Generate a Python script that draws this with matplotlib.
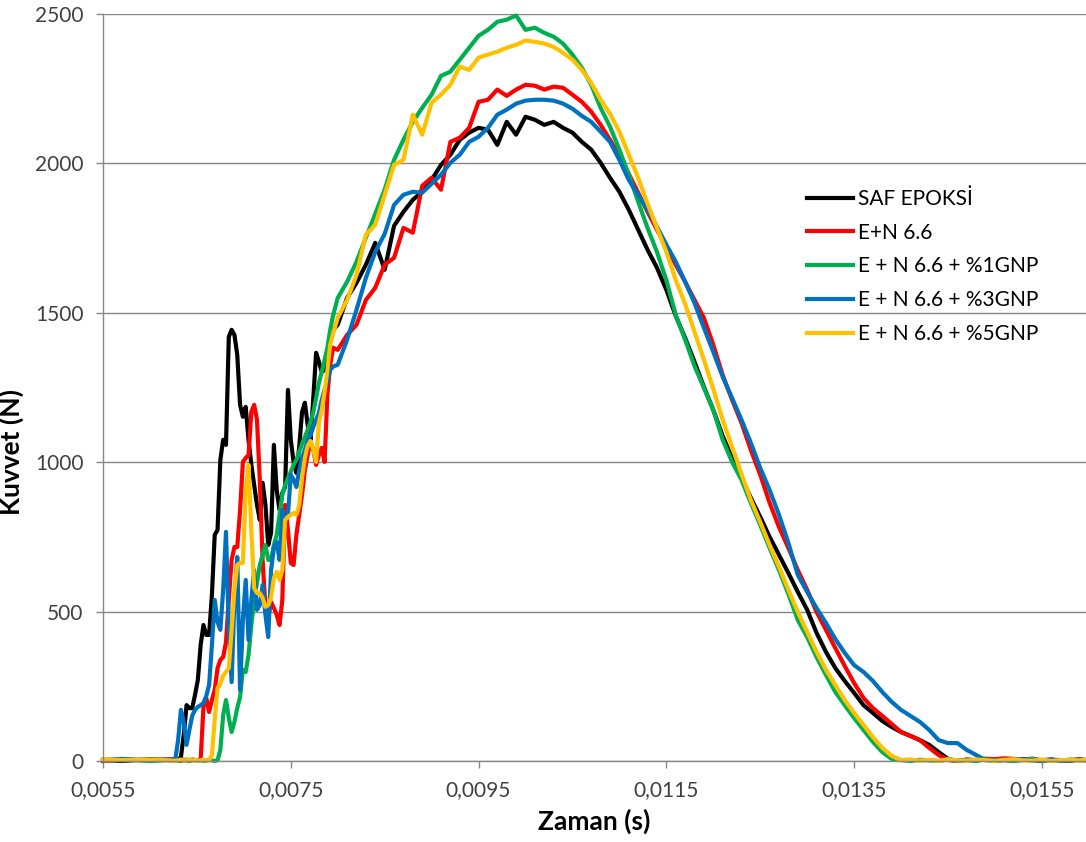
import matplotlib
matplotlib.use("Agg")
import matplotlib.pyplot as plt
from matplotlib.ticker import FixedLocator, FuncFormatter

plt.rcParams["font.family"] = ["Lato", "DejaVu Sans"]

labels = ["SAF EPOKSİ", "E+N 6.6", "E + N 6.6 + %1GNP", "E + N 6.6 + %3GNP", "E + N 6.6 + %5GNP"]
colors = ["#000000", "#FF0000", "#00B050", "#0070C0", "#FFC000"]

# time (s): impact onset region, read finely
t_early = [0.00550, 0.00570, 0.00600, 0.00627,
           0.00630, 0.00633, 0.00636, 0.00639, 0.00642, 0.00645, 0.00648, 0.00651, 0.00654, 0.00657,
           0.00660, 0.00663, 0.00666, 0.00669, 0.00672, 0.00675, 0.00678, 0.00681, 0.00684, 0.00687,
           0.00690, 0.00693, 0.00696, 0.00699, 0.00702, 0.00705, 0.00708, 0.00711, 0.00714, 0.00717,
           0.00720, 0.00723, 0.00726, 0.00729, 0.00732, 0.00735, 0.00738, 0.00741, 0.00744, 0.00747,
           0.00750, 0.00753, 0.00756, 0.00759, 0.00762, 0.00765, 0.00768, 0.00771, 0.00774, 0.00777,
           0.00780, 0.00783, 0.00786, 0.00789, 0.00792, 0.00795]

# time (s): main pulse
t_main = [0.0080, 0.0081, 0.0082, 0.0083, 0.0084, 0.0085, 0.0086, 0.0087, 0.0088, 0.0089,
          0.0090, 0.0091, 0.0092, 0.0093, 0.0094, 0.0095, 0.0096, 0.0097, 0.0098, 0.0099,
          0.0100, 0.0101, 0.0102, 0.0103, 0.0104, 0.0105, 0.0106, 0.0107, 0.0108, 0.0109,
          0.0110, 0.0111, 0.0112, 0.0113, 0.0114, 0.0115, 0.0116, 0.0117, 0.0118, 0.0119,
          0.0120, 0.0121, 0.0122, 0.0123, 0.0124, 0.0125, 0.0126, 0.0127, 0.0128, 0.0129,
          0.0130, 0.0131, 0.0132, 0.0133, 0.0134, 0.0135, 0.0136, 0.0137, 0.0138, 0.0139,
          0.0140, 0.0141, 0.0142, 0.0143, 0.0144, 0.0145, 0.0146, 0.0147, 0.0148, 0.0149,
          0.0150, 0.0151, 0.0152, 0.0153, 0.0154, 0.0155, 0.0156, 0.0157, 0.0158, 0.0159,
          0.0160]

# force (N)
saf_early = [4, 0, 6, 2,
             3, 13, 87, 187, 177, 177, 221, 271, 388, 455,
             422, 422, 556, 757, 773, 1008, 1075, 1058, 1420, 1443,
             1426, 1359, 1192, 1152, 1185, 1075, 991, 924, 857, 807,
             931, 857, 723, 763, 1058, 907, 840, 897, 917, 1242,
             1075, 1001, 964, 1051, 1168, 1199, 1125, 1075, 1215, 1366,
             1336, 1302, 1309, 1369, 1409, 1443]
saf_main = [1460, 1550, 1600, 1661, 1734, 1644, 1791, 1838, 1878, 1905,
            1945, 1995, 2029, 2079, 2103, 2119, 2113, 2062, 2139, 2096,
            2156, 2146, 2129, 2139, 2119, 2103, 2072, 2046, 2002, 1952,
            1905, 1845, 1778, 1711, 1651, 1577, 1490, 1416, 1336, 1252,
            1175, 1088, 1014, 947, 881, 817, 750, 690, 629, 566,
            506, 429, 365, 311, 268, 228, 187, 161, 134, 114,
            97, 84, 70, 54, 30, 7, 0, 4, 2, 5,
            0, 3, 1, 6, 2, 0, 4, 3, 1, 5,
            2]

en_early = [0, 5, 2, 7,
            3, 0, 4, 2, 0, 5, 3, 1, 4, 181,
            211, 164, 204, 238, 311, 338, 348, 398, 539, 673,
            716, 716, 840, 1001, 1014, 1024, 1168, 1192, 1142, 941,
            673, 516, 482, 532, 512, 489, 455, 539, 857, 773,
            663, 656, 757, 824, 891, 974, 1024, 1068, 1041, 991,
            1024, 1048, 1001, 1225, 1326, 1383]
en_main = [1376, 1426, 1460, 1543, 1584, 1661, 1684, 1784, 1768, 1925,
           1952, 1912, 2072, 2086, 2119, 2206, 2213, 2247, 2226, 2247,
           2263, 2260, 2247, 2257, 2253, 2230, 2206, 2173, 2129, 2079,
           2026, 1965, 1902, 1838, 1778, 1721, 1661, 1604, 1543, 1483,
           1393, 1292, 1209, 1132, 1041, 958, 864, 783, 713, 639,
           573, 499, 439, 378, 318, 261, 211, 177, 151, 124,
           97, 84, 70, 44, 20, 3, 0, 5, 3, 8,
           6, 9, 7, 4, 8, 2, 5, 0, 3, 6,
           1]

gnp1_early = [2, 6, 0, 4,
              0, 3, 1, 5, 0, 2, 4, 0, 3, 1,
              0, 4, 2, 0, 3, 37, 154, 204, 144, 97,
              131, 177, 214, 305, 298, 355, 455, 539, 596, 656,
              690, 723, 673, 673, 723, 757, 824, 891, 924, 947,
              968, 991, 1008, 1035, 1061, 1085, 1108, 1135, 1168, 1215,
              1266, 1302, 1343, 1383, 1443, 1490]
gnp1_main = [1550, 1604, 1671, 1751, 1831, 1912, 2012, 2079, 2139, 2186,
             2230, 2293, 2307, 2347, 2387, 2427, 2447, 2474, 2481, 2495,
             2447, 2454, 2437, 2424, 2401, 2364, 2320, 2263, 2186, 2123,
             2046, 1962, 1872, 1784, 1704, 1610, 1493, 1410, 1322, 1249,
             1175, 1075, 1001, 941, 864, 790, 713, 639, 559, 472,
             415, 348, 288, 231, 187, 144, 104, 64, 30, 7,
             3, 0, 4, 2, 0, 5, 1, 3, 0, 6,
             2, 4, 0, 3, 7, 1, 4, 0, 5, 2,
             3]

gnp3_early = [3, 7, 2, 5,
              70, 171, 131, 54, 104, 151, 171, 181, 187, 194,
              218, 254, 388, 539, 465, 439, 573, 767, 439, 264,
              539, 683, 238, 472, 606, 405, 539, 639, 506, 522,
              589, 489, 415, 639, 713, 733, 673, 840, 807, 824,
              958, 941, 917, 974, 1014, 1041, 1075, 1091, 1118, 1142,
              1165, 1209, 1242, 1269, 1309, 1320]
gnp3_main = [1326, 1410, 1510, 1617, 1704, 1764, 1861, 1895, 1905, 1902,
             1932, 1962, 2002, 2029, 2072, 2089, 2119, 2163, 2180, 2200,
             2210, 2213, 2213, 2210, 2200, 2183, 2159, 2139, 2106, 2072,
             2012, 1945, 1895, 1845, 1788, 1728, 1671, 1604, 1533, 1450,
             1369, 1286, 1215, 1142, 1065, 981, 907, 824, 730, 623,
             566, 512, 462, 408, 362, 321, 298, 268, 231, 198,
             171, 151, 131, 104, 70, 60, 60, 37, 20, 3,
             0, 4, 2, 6, 1, 3, 5, 0, 2, 4,
             3]

gnp5_early = [6, 3, 5, 1,
              2, 5, 0, 3, 6, 1, 4, 0, 2, 5,
              1, 3, 20, 137, 244, 258, 285, 298, 311, 439,
              573, 656, 663, 663, 907, 991, 773, 579, 562, 562,
              546, 516, 522, 546, 613, 633, 606, 639, 807, 817,
              824, 830, 824, 857, 947, 1014, 1055, 1071, 1041, 1001,
              1135, 1175, 1235, 1309, 1393, 1430]
gnp5_main = [1483, 1543, 1627, 1761, 1795, 1895, 1995, 2012, 2163, 2096,
             2203, 2230, 2263, 2324, 2313, 2354, 2364, 2374, 2387, 2397,
             2411, 2407, 2401, 2390, 2370, 2347, 2313, 2270, 2213, 2166,
             2106, 2029, 1952, 1865, 1784, 1704, 1610, 1530, 1436, 1343,
             1245, 1142, 1051, 961, 874, 800, 723, 650, 573, 499,
             432, 365, 305, 254, 204, 161, 121, 80, 44, 17,
             3, 5, 1, 4, 0, 6, 2, 1, 5, 3,
             0, 4, 6, 2, 1, 5, 0, 3, 4, 2,
             6]

x_ticks = [0.0055, 0.0075, 0.0095, 0.0115, 0.0135, 0.0155]
y_ticks = [0, 500, 1000, 1500, 2000, 2500]

series = [saf_early + saf_main, en_early + en_main, gnp1_early + gnp1_main,
          gnp3_early + gnp3_main, gnp5_early + gnp5_main]
t_all = t_early + t_main

W, H = 1086, 842
fig = plt.figure(figsize=(W / 100, H / 100), dpi=100)
ax = fig.add_axes([103 / W, 81 / H, 983 / W, 747 / H])

for vals, lab, col in zip(series, labels, colors):
    ax.plot(t_all, vals, color=col, lw=3.0, label=lab, clip_on=False,
            solid_joinstyle="round")

ax.set_xlim(0.0055, 0.01597)
ax.set_ylim(0, 2500)
ax.xaxis.set_major_locator(FixedLocator(x_ticks))
ax.yaxis.set_major_locator(FixedLocator(y_ticks))
ax.xaxis.set_major_formatter(FuncFormatter(lambda v, p: f"{v:.4f}".replace(".", ",")))
ax.yaxis.set_major_formatter(FuncFormatter(lambda v, p: f"{v:.0f}"))

grid_col = "#868686"
ax.grid(axis="y", color=grid_col, lw=1.0)
ax.set_axisbelow(True)
for s in ["top", "right"]:
    ax.spines[s].set_visible(False)
for s in ["left", "bottom"]:
    ax.spines[s].set_color(grid_col)
    ax.spines[s].set_linewidth(1.0)
ax.tick_params(axis="both", colors=grid_col, length=5, width=1.0,
               labelsize=15, labelcolor="#404040", pad=9)

ax.set_xlabel("Zaman (s)", fontsize=19, fontweight="bold", labelpad=6)
ax.set_ylabel("Kuvvet (N)", fontsize=19, fontweight="bold")
ax.yaxis.set_label_coords((24 - 103) / 983, (761 - 452) / 747)

ax.legend(loc="upper left", bbox_to_anchor=(807 / W, 1 - 189 / H),
          bbox_transform=fig.transFigure, frameon=False, fontsize=15,
          handlelength=2.2, handletextpad=0.25, labelspacing=0.66,
          borderpad=0, borderaxespad=0)

fig.savefig("out.png", dpi=100)
